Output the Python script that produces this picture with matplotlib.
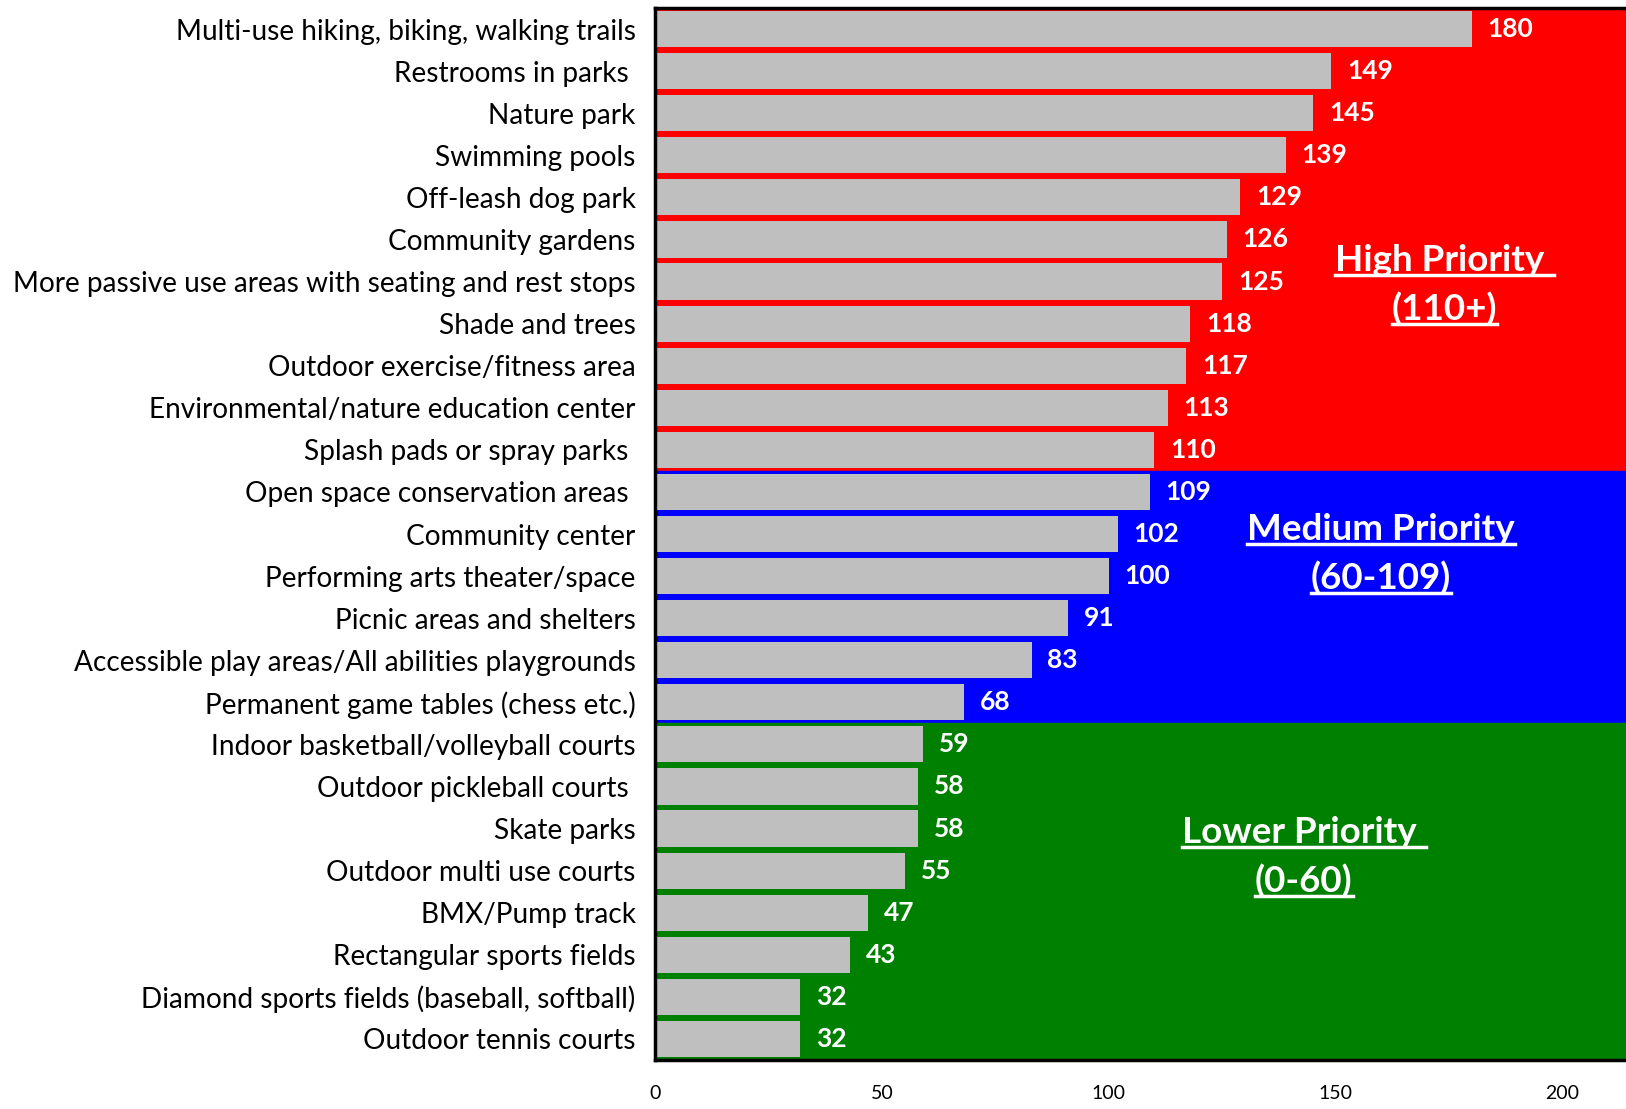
import matplotlib.pyplot as plt
from matplotlib.lines import Line2D

categories = [
    "Multi-use hiking, biking, walking trails",
    "Restrooms in parks ",
    "Nature park",
    "Swimming pools",
    "Off-leash dog park",
    "Community gardens",
    "More passive use areas with seating and rest stops",
    "Shade and trees",
    "Outdoor exercise/fitness area",
    "Environmental/nature education center",
    "Splash pads or spray parks ",
    "Open space conservation areas ",
    "Community center",
    "Performing arts theater/space",
    "Picnic areas and shelters",
    "Accessible play areas/All abilities playgrounds",
    "Permanent game tables (chess etc.)",
    "Indoor basketball/volleyball courts",
    "Outdoor pickleball courts ",
    "Skate parks",
    "Outdoor multi use courts",
    "BMX/Pump track",
    "Rectangular sports fields",
    "Diamond sports fields (baseball, softball)",
    "Outdoor tennis courts",
]
values = [180, 149, 145, 139, 129, 126, 125, 118, 117, 113, 110, 109, 102,
          100, 91, 83, 68, 59, 58, 58, 55, 47, 43, 32, 32]

# priority bands: (first row, last row, colour, title, title x)
bands = [
    (0, 10, "#ff0000", "High Priority \n(110+)", 174),
    (11, 16, "#0000ff", "Medium Priority\n(60-109)", 160),
    (17, 24, "#008000", "Lower Priority \n(0-60)", 143),
]

plt.rcParams["font.family"] = ["Lato", "DejaVu Sans"]

fig = plt.figure(figsize=(16.26, 11.09), dpi=100)
ax = fig.add_axes([655 / 1626, 1 - 1060 / 1109, 1 - 655 / 1626, (1060 - 8) / 1109])

n = len(categories)
ypos = list(range(n))

for first, last, color, title, tx in bands:
    ax.axhspan(first - 0.5, last + 0.5, color=color, zorder=0)

ax.barh(ypos, values, height=0.86, color="#bfbfbf", zorder=2)
for y, v in zip(ypos, values):
    ax.text(v + 3.5, y, str(v), color="white", fontweight="bold",
            fontsize=19, va="center", ha="left", zorder=3)

ax.set_xlim(0, 214)
ax.set_ylim(n - 0.5, -0.5)
ax.set_yticks(ypos)
ax.set_yticklabels(categories, fontsize=20.2)
ax.set_xticks([0, 50, 100, 150, 200])
ax.tick_params(axis="y", length=0, pad=14)
ax.tick_params(axis="x", length=0, labelsize=14, pad=18)
for side in ["left", "bottom", "top"]:
    ax.spines[side].set_linewidth(2.5)
ax.spines["right"].set_visible(False)

# band titles, underlined
title_rows = [5.5, 11.9, 19.1]
titles = []
for (first, last, color, title, tx), ty in zip(bands, title_rows):
    for k, line in enumerate(title.split("\n")):
        t = ax.text(tx, ty + k * 1.15, line, color="white", fontweight="bold",
                    fontsize=26.5, ha="center", va="center", zorder=4)
        titles.append(t)

fig.canvas.draw()
renderer = fig.canvas.get_renderer()
inv = ax.transAxes.inverted()
for t in titles:
    bb = t.get_window_extent(renderer)
    (x0, y0), (x1, y1) = inv.transform([(bb.x0, bb.y0 + 2), (bb.x1, bb.y0 + 2)])
    ax.add_line(Line2D([x0, x1], [y0, y1], transform=ax.transAxes,
                       color="white", linewidth=2.5, zorder=4))

fig.savefig("out.png", dpi=100)
